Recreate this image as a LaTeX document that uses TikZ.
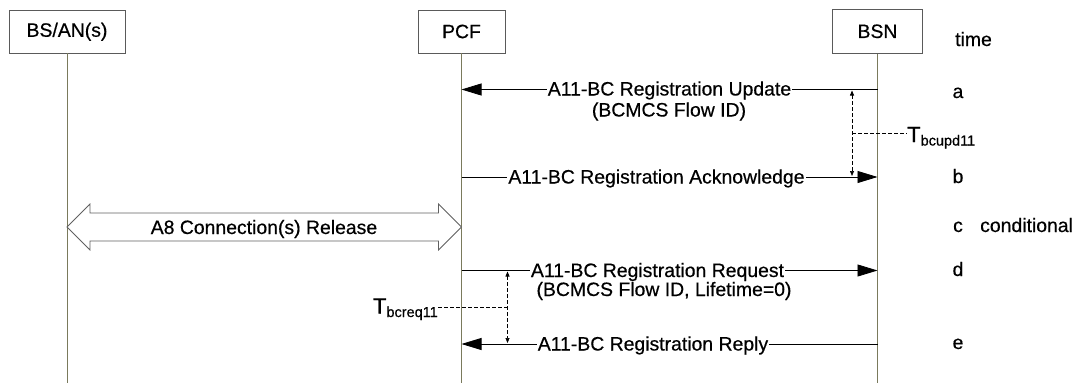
\documentclass[tikz,border=0pt]{standalone}
\usepackage{fontspec}
\setmainfont[RawFeature={embolden=0.5}]{Liberation Sans}
\usetikzlibrary{arrows.meta,calc}
\definecolor{lifeline}{HTML}{7A7A5C}
\definecolor{boxline}{HTML}{5A5A5A}
\definecolor{fatline}{HTML}{606060}
\begin{document}
\begin{tikzpicture}[x=1pt,y=-1pt,
  every node/.style={font=\fontsize{19.4}{22}\selectfont, inner sep=0pt},
  actor/.style={draw=boxline, line width=0.9pt, fill=white},
  life/.style={draw=lifeline, line width=0.9pt},
  msg/.style={draw=black, line width=0.8pt, -{Triangle[length=20pt,width=12pt]}},
  lbl/.style={fill=white, inner xsep=1pt, inner ysep=1pt, anchor=base},
  note/.style={anchor=base},
  timer/.style={draw=black, line width=0.7pt, dash pattern=on 4pt off 2pt},
  timertips/.style={timer, {Triangle[length=5pt,width=4pt]}-{Triangle[length=5pt,width=4pt]}},
  fat/.style={draw=fatline, line width=0.8pt, fill=white, line join=miter},
]
\useasboundingbox (0,0) rectangle (1078,383);

% entities
\node[actor, minimum width=116pt, minimum height=42.5pt] (bsan) at (67,31.75) {BS/AN(s)};
\node[actor, minimum width=87pt, minimum height=43pt] (pcf) at (461.5,31.5) {PCF};
\node[actor, minimum width=90pt, minimum height=44pt] (bsn) at (877.5,31.3) {BSN};

% lifelines
\coordinate (bsanEnd) at (67,383);
\coordinate (pcfEnd) at (461.5,383);
\coordinate (bsnEnd) at (877.5,383);
\draw[life] (bsan.south) -- (bsanEnd);
\draw[life] (pcf.south) -- (pcfEnd);
\draw[life] (bsn.south) -- (bsnEnd);

% column of step letters
\node[note, anchor=base west] (time) at (955,46) {time};
\node[note] (la) at (958,98) {a};
\node[note] (lb) at (958,183) {b};
\node[note] (lc) at (958,232) {c};
\node[note, anchor=base west] (cond) at (980,232) {conditional};
\node[note] (ld) at (958,276) {d};
\node[note] (le) at (958,349) {e};

% a: registration update
\coordinate (bsnA) at (877.5,89.5);
\coordinate (pcfA) at (461.5,89.5);
\draw[msg] (bsnA) -- (pcfA);
\node[lbl] (ma) at (669.5,95.5) {A11-BC Registration Update};
\node[note] (ma2) at (669,116.5) {(BCMCS Flow ID)};

% b: registration acknowledge
\coordinate (pcfB) at (461.5,177);
\coordinate (bsnB) at (877.5,177);
\draw[msg] (pcfB) -- (bsnB);
\node[lbl] (mb) at (656.5,183.5) {A11-BC Registration Acknowledge};

% timer between a and b
\coordinate (tA1) at (852,90.5);
\coordinate (tA2) at (852,176);
\coordinate (tAm) at (852,133);
\draw[timertips] (tA1) -- (tA2);
\node[anchor=base west] (tupd) at (907,142)
  {\fontsize{22}{24}\selectfont T\raisebox{-3.5pt}{\fontsize{14.5}{16}\selectfont bcupd11}};
\draw[timer] (tAm) -- (tupd.west |- tAm);

% c: A8 connection release (two-headed block arrow)
\coordinate (a8L) at (67,227);
\coordinate (a8R) at (461.5,227);
\draw[fat] (a8L) -- ($(a8L)+(23,-23)$) -- ($(a8L)+(23,-14)$) -- ($(a8R)+(-23,-14)$)
  -- ($(a8R)+(-23,-23)$) -- (a8R) -- ($(a8R)+(-23,23)$) -- ($(a8R)+(-23,14)$)
  -- ($(a8L)+(23,14)$) -- ($(a8L)+(23,23)$) -- cycle;
\node[note] (mc) at (264,234) {A8 Connection(s) Release};

% d: registration request
\coordinate (pcfD) at (461.5,270.5);
\coordinate (bsnD) at (877.5,270.5);
\draw[msg] (pcfD) -- (bsnD);
\node[lbl] (md) at (657.5,277) {A11-BC Registration Request};
\node[note] (md2) at (664,296) {(BCMCS Flow ID, Lifetime=0)};

% e: registration reply
\coordinate (bsnE) at (877.5,344);
\coordinate (pcfE) at (461.5,344);
\draw[msg] (bsnE) -- (pcfE);
\node[lbl] (me) at (653,350.5) {A11-BC Registration Reply};

% timer between d and e
\coordinate (tD1) at (507.5,271.5);
\coordinate (tD2) at (507.5,343);
\coordinate (tDm) at (507.5,307.5);
\draw[timertips] (tD1) -- (tD2);
\node[anchor=base east] (treq) at (438,313.5)
  {\fontsize{22}{24}\selectfont T\raisebox{-3.5pt}{\fontsize{14.5}{16}\selectfont bcreq11}};
\draw[timer] (tDm) -- (treq.east |- tDm);
\end{tikzpicture}
\end{document}
